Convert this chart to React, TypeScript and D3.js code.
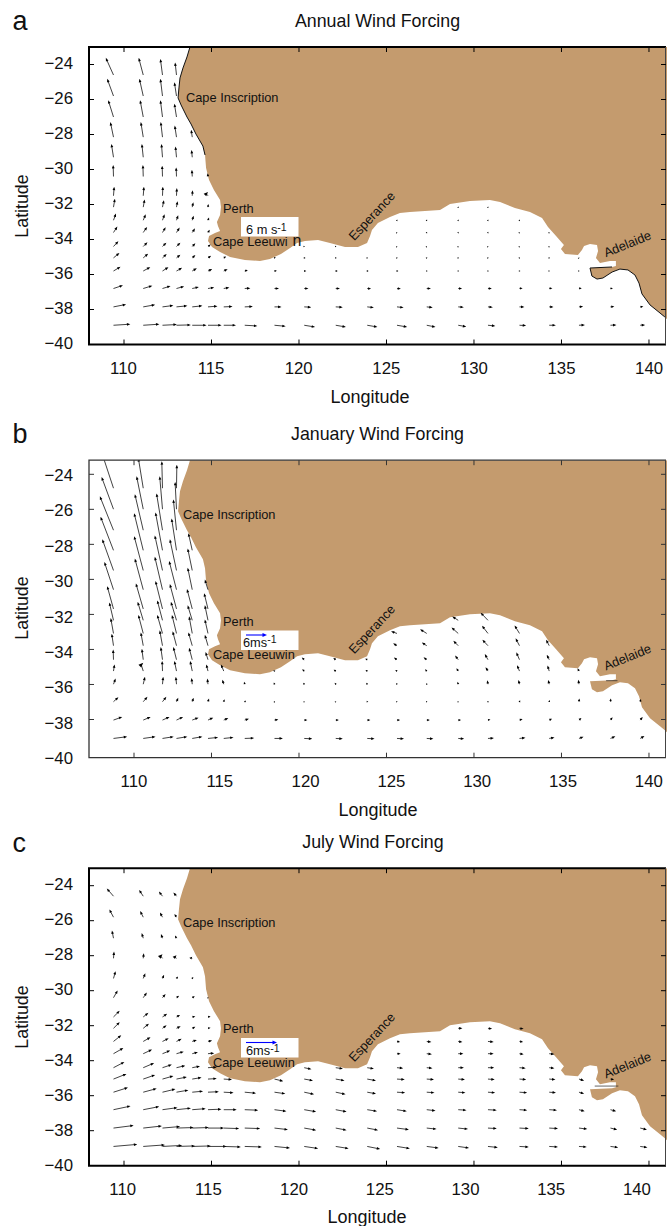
import React, {useRef, useEffect} from "react"
import * as d3 from "d3"

const _ = null

const lonGrid = [109.4, 111.1, 112.2, 113, 113.9, 114.8, 115.7, 116.9, 118.6, 120.3, 122.1, 123.9, 125.6, 127.3, 129.1, 130.8, 132.6, 134.3, 136, 137.8, 139.5]
const latGrid = [-24.6, -25.8, -27, -28.15, -29.3, -30.4, -31.5, -32.15, -32.9, -33.6, -34.4, -35.05, -35.8, -36.8, -37.85, -38.9]

const lonTicks = [110, 115, 120, 125, 130, 135, 140]
const latTicks = [-24, -26, -28, -30, -32, -34, -36, -38, -40]

// coast, south-west WA round to the Victorian border
const coastLon = [113.77, 113.6, 113.37, 113.2, 113.14, 113.09, 113.26, 113.6, 113.83, 114.11, 114.51, 114.63, 114.69, 114.86, 115.14, 115.49, 115.54, 115.49, 115.31, 115.37, 115.49, 115.2, 114.86, 114.8, 115.03, 115.49, 116.06, 116.91, 117.77, 118.34, 118.97, 119.49, 119.89, 120.34, 121.09, 121.77, 122.63, 123.37, 123.89, 124.06, 124.17, 124.51, 125.2, 125.77, 126.34, 128.06, 128.63, 129.77, 130.91, 131.49, 132.34, 133.2, 133.89, 134.23, 134.69, 135.14, 134.97, 135.2, 135.94, 136.17, 136.29, 136.63, 137.03, 137.09, 136.97, 137.2, 137.77, 138.11, 138.11, 137.89, 136.63, 136.74, 137.03, 137.37, 137.89, 138.34, 138.8, 139.2, 139.43, 139.6, 140.06, 140.63, 140.91, 141.03]
const coastLat = [-23, -23.57, -24.2, -24.77, -25.34, -25.91, -26.31, -27, -27.4, -27.97, -28.66, -29.17, -29.91, -30.6, -31.17, -31.74, -32.14, -32.6, -33, -33.23, -33.51, -33.63, -33.8, -34.09, -34.43, -34.71, -35, -35.17, -35.23, -35.11, -34.83, -34.49, -34.2, -34.09, -34.03, -34.2, -34.43, -34.43, -34.2, -33.8, -33.46, -33.06, -32.71, -32.49, -32.43, -32.31, -31.97, -31.8, -31.74, -31.86, -32.2, -32.43, -32.77, -33.29, -33.8, -34.31, -34.54, -34.83, -34.89, -34.6, -34.37, -34.26, -34.31, -34.66, -35.06, -35.34, -35.23, -35.23, -35.51, -35.57, -35.63, -36.09, -36.26, -36.2, -35.86, -35.69, -35.74, -36.03, -36.49, -37.11, -37.74, -38.2, -38.43, -38.55]

// wind components in m/s
const annualU = [
  [-2.2, -1.3, -.6, -.4, _, _, _, _, _, _, _, _, _, _, _, _, _, _, _, _, _],
  [-1.8, -1.1, -.6, -.6, _, _, _, _, _, _, _, _, _, _, _, _, _, _, _, _, _],
  [-1.5, -.9, -.6, -.6, _, _, _, _, _, _, _, _, _, _, _, _, _, _, _, _, _],
  [-.9, -.7, -.5, -.5, -.3, _, _, _, _, _, _, _, _, _, _, _, _, _, _, _, _],
  [-.6, -.4, -.3, -.3, -.2, _, _, _, _, _, _, _, _, _, _, _, _, _, _, _, _],
  [-.1, -.1, -.1, -.1, -.1, -.1, _, _, _, _, _, _, _, _, _, _, _, _, _, _, _],
  [.2, .2, .1, .1, .1, 0, _, _, _, _, _, _, _, _, _, _, _, _, _, _, _],
  [.4, .4, .4, .3, .3, .1, _, _, _, _, _, _, _, _, .1, .1, _, _, _, _, _],
  [.7, .7, .6, .5, .4, .3, _, _, _, _, _, _, .1, .1, .1, .1, .1, _, _, _, _],
  [1.1, 1.1, .9, .9, .8, .5, _, _, _, _, _, _, .1, .1, .1, .1, .1, .1, _, _, _],
  [1.4, 1.2, 1.1, 1.1, .9, .8, _, _, _, .2, .2, _, .1, .1, .1, .1, .1, .1, _, _, _],
  [1.7, 1.4, 1.2, 1.1, .9, .9, .7, _, .4, .4, .3, .2, .2, .2, .2, .2, .2, .2, .1, _, _],
  [2, 2, 1.7, 1.6, 1.3, 1.2, 1.1, .9, .7, .6, .6, .4, .4, .3, .3, .3, .3, .2, .2, _, _],
  [2.7, 2.6, 2.3, 2.2, 1.9, 1.8, 1.6, 1.6, 1.3, 1.2, 1.2, 1.1, 1.1, 1.2, 1.1, 1.1, .9, .9, .8, .7, _],
  [3.6, 3.4, 3.1, 3.1, 2.9, 2.7, 2.5, 2.3, 2, 2, 2, 1.9, 1.9, 1.7, 1.6, 1.4, 1.4, 1.2, 1.2, 1.1, .9],
  [4.8, 4.6, 4.1, 4.1, 4.1, 3.9, 3.5, 3.6, 3.2, 3.1, 2.9, 2.9, 2.9, 2.5, 2.3, 2.1, 1.9, 1.9, 1.7, 1.7, 1.4],
]
const annualV = [
  [4.9, 4.9, 4.6, 3.6, _, _, _, _, _, _, _, _, _, _, _, _, _, _, _, _, _],
  [4.9, 4.9, 4.9, 3.9, _, _, _, _, _, _, _, _, _, _, _, _, _, _, _, _, _],
  [4.8, 4.8, 4.8, 3.8, _, _, _, _, _, _, _, _, _, _, _, _, _, _, _, _, _],
  [4.3, 4.3, 4.3, 3.3, 2.1, _, _, _, _, _, _, _, _, _, _, _, _, _, _, _, _],
  [3.8, 3.8, 3.8, 3.1, 2.1, _, _, _, _, _, _, _, _, _, _, _, _, _, _, _, _],
  [3.3, 3.3, 3.1, 2.6, 1.9, .9, _, _, _, _, _, _, _, _, _, _, _, _, _, _, _],
  [2.6, 2.6, 2.6, 2.2, 1.6, 1.1, _, _, _, _, _, _, _, _, _, _, _, _, _, _, _],
  [2.4, 2.2, 2, 1.7, 1.4, .9, _, _, _, _, _, _, _, _, .2, .2, _, _, _, _, _],
  [1.9, 1.7, 1.7, 1.4, 1.3, .8, _, _, _, _, _, _, .2, .2, .2, .2, .2, _, _, _, _],
  [1.7, 1.6, 1.5, 1.4, 1.2, .8, _, _, _, _, _, _, .1, .2, .2, .2, .1, .1, _, _, _],
  [1.5, 1.2, 1.1, 1.1, .9, .6, _, _, _, 0, 0, _, .1, .1, .1, .1, .1, .1, _, _, _],
  [1.4, 1.2, 1.1, .9, .8, .6, .4, _, .1, 0, 0, .1, .1, .1, .1, .1, .1, .1, .1, _, _],
  [1.2, 1.1, 1.1, .9, .8, .6, .5, .3, .1, 0, 0, 0, 0, 0, 0, 0, 0, 0, 0, _, _],
  [.9, .8, .7, .6, .4, .3, .3, .1, 0, 0, 0, -.1, -.1, 0, 0, 0, .1, .1, .1, .1, _],
  [.7, .6, .4, .3, .3, .2, .1, .1, 0, -.1, -.1, -.2, -.2, -.2, -.1, -.1, 0, 0, .1, .1, .1],
  [.3, .3, .2, .1, 0, 0, 0, -.2, -.3, -.5, -.5, -.5, -.5, -.5, -.4, -.2, -.1, 0, .1, .1, .1],
]

const januaryU = [
  [-3.1, -1.4, -.2, .1, _, _, _, _, _, _, _, _, _, _, _, _, _, _, _, _, _],
  [-3.4, -1.9, -.8, -.4, _, _, _, _, _, _, _, _, _, _, _, _, _, _, _, _, _],
  [-3.9, -2.4, -1.7, -.9, _, _, _, _, _, _, _, _, _, _, _, _, _, _, _, _, _],
  [-3.7, -2.6, -2, -1.4, -1.1, _, _, _, _, _, _, _, _, _, _, _, _, _, _, _, _],
  [-3.2, -2.6, -2.2, -1.9, -1.3, _, _, _, _, _, _, _, _, _, _, _, _, _, _, _, _],
  [-2.6, -2.4, -2.2, -2.1, -1.3, -.9, _, _, _, _, _, _, _, _, _, _, _, _, _, _, _],
  [-1.8, -2.1, -2, -1.9, -1.5, -1.1, _, _, _, _, _, _, _, _, _, _, _, _, _, _, _],
  [-1.2, -1.6, -1.5, -1.6, -1.3, -.9, _, _, _, _, _, _, _, _, -1.7, -2.1, _, _, _, _, _],
  [-.8, -1.4, -1.5, -1.3, -.9, -.9, _, _, _, _, _, _, -1.7, -1.9, -1.9, -1.7, -1.4, _, _, _, _],
  [-.5, -.7, -.8, -1.1, -1.1, -.9, _, _, _, _, _, _, -1.1, -1.4, -1.4, -1.6, -1.1, -.9, _, _, _],
  [-.1, -.4, -.5, -.9, -.9, -.7, _, _, _, -.7, -.7, -.6, -.9, -.9, -.9, -.9, -.9, -.7, _, _, _],
  [.3, 0, -.1, -.6, -.6, -.5, -.8, _, -.3, -.6, -.6, -.5, -.5, -.5, -.5, -.7, -.7, -.5, -.4, _, _],
  [.6, .5, .2, -.2, -.2, -.2, -.4, -.2, -.2, -.3, -.3, -.3, -.3, -.2, -.2, -.2, -.3, -.3, -.2, _, _],
  [1.4, 1.2, 1.1, .5, .4, .3, .2, .4, .1, .1, .1, .3, .2, .2, .1, .2, .2, .1, .1, .1, .2],
  [2.5, 2.1, 2, 1.9, 1.8, 1.5, 1.3, 1.2, 1.1, .9, .9, .9, .9, .9, .8, .7, .9, .8, .7, .6, .7],
  [3.9, 3.5, 3.2, 3.1, 2.9, 2.9, 2.8, 2.7, 2.4, 2.3, 2, 2.1, 2, 1.9, 1.7, 1.7, 1.7, 1.5, 1.3, 1.4, 1.2],
]
const januaryV = [
  [9.4, 8.6, 7.7, 6.7, _, _, _, _, _, _, _, _, _, _, _, _, _, _, _, _, _],
  [9.2, 9.4, 9.4, 7.8, _, _, _, _, _, _, _, _, _, _, _, _, _, _, _, _, _],
  [9.7, 10.3, 10.5, 8.8, _, _, _, _, _, _, _, _, _, _, _, _, _, _, _, _, _],
  [9.6, 10.6, 10.8, 9.1, 4.9, _, _, _, _, _, _, _, _, _, _, _, _, _, _, _, _],
  [8.9, 9.8, 10, 8.9, 6.3, _, _, _, _, _, _, _, _, _, _, _, _, _, _, _, _],
  [7.9, 8.9, 9.4, 8.2, 6.3, 2.9, _, _, _, _, _, _, _, _, _, _, _, _, _, _, _],
  [6.5, 7.3, 8, 7.1, 5.7, 4.5, _, _, _, _, _, _, _, _, _, _, _, _, _, _, _],
  [5.1, 5.3, 5.7, 5.3, 4.3, 4.3, _, _, _, _, _, _, _, _, 1.1, 2.2, _, _, _, _, _],
  [4.4, 5.3, 5.3, 5.3, 4.9, 4, _, _, _, _, _, _, .6, 1.2, 1.7, 2.2, 2.3, _, _, _, _],
  [3.4, 3.8, 4.4, 4.1, 3.8, 3.1, _, _, _, _, _, _, .7, .9, 1.4, 1.7, 2.1, 1.7, _, _, _],
  [2.9, 3.1, 3.6, 3.6, 3.4, 2.2, _, _, _, .6, .5, .3, .6, .7, 1.2, 1.6, 2.1, 1.4, _, _, _],
  [1.9, 2.4, 2.9, 2.9, 2.9, 1.9, 1.9, _, .3, .5, .4, .3, .3, .5, .8, 1.1, 1.7, 1.6, .8, _, _],
  [1.6, 2.1, 2.1, 2.1, 1.8, 1.6, 1.3, .7, .5, .4, .4, .4, .3, .3, .7, 1.1, 1.2, 1.2, 1.3, _, _],
  [1.3, 1.4, 1.4, 1.1, 1.1, .9, .7, .3, .2, .1, .1, 0, 0, 0, .1, .2, .4, .5, .9, .9, .8],
  [.9, .9, .9, .9, .7, .7, .6, .4, .2, 0, 0, 0, 0, 0, 0, .2, .3, .4, .6, .8, .9],
  [.5, .5, .5, .5, .5, .3, .3, .1, 0, -.1, -.1, -.1, -.1, -.1, -.1, .1, .2, .3, .5, .6, .7],
]

const julyU = [
  [-1.3, -.8, -.7, -.6, _, _, _, _, _, _, _, _, _, _, _, _, _, _, _, _, _],
  [-.8, -.6, -.5, -.4, _, _, _, _, _, _, _, _, _, _, _, _, _, _, _, _, _],
  [-.3, -.3, -.3, -.3, _, _, _, _, _, _, _, _, _, _, _, _, _, _, _, _, _],
  [.1, .1, 0, 0, 0, _, _, _, _, _, _, _, _, _, _, _, _, _, _, _, _],
  [.4, .4, .3, .3, .2, _, _, _, _, _, _, _, _, _, _, _, _, _, _, _, _],
  [.8, .7, .6, .5, .5, .1, _, _, _, _, _, _, _, _, _, _, _, _, _, _, _],
  [1.2, 1, .9, .7, .6, .5, _, _, _, _, _, _, _, _, _, _, _, _, _, _, _],
  [1.2, 1.1, .8, .8, .6, .5, _, _, _, _, _, _, _, _, .8, .8, .8, _, _, _, _],
  [1.5, 1.4, 1.2, 1, .9, .8, _, _, _, _, _, _, .6, .9, .8, 1.1, .7, _, _, _, _],
  [1.9, 1.7, 1.5, 1.4, 1.1, 1.2, _, _, _, _, _, _, .7, 1, 1, 1.1, .8, 1, _, _, _],
  [2.1, 2.1, 1.8, 1.7, 1.5, 1.7, _, _, _, 1.4, 1.4, 1.3, 1.2, 1.1, 1.1, 1.2, 1.2, 1, _, _, _],
  [2.5, 2.3, 2.1, 2, 1.8, 1.7, 1.6, _, 1.7, 1.7, 1.7, 1.7, 1.5, 1.4, 1.3, 1.3, 1.3, 1.2, 1, .7, _],
  [2.8, 2.6, 2.5, 2.3, 2.1, 2.1, 1.9, 2.2, 2.1, 1.9, 1.9, 1.7, 1.6, 1.5, 1.4, 1.4, 1.5, 1.3, 1, _, _],
  [3.3, 3.1, 2.9, 2.8, 2.6, 2.6, 2.5, 2.6, 2.3, 2.3, 2.1, 1.9, 1.9, 1.7, 1.6, 1.7, 1.5, 1.5, 1.1, 1.1, _],
  [3.9, 3.6, 3.4, 3.3, 3.2, 3.1, 3, 3, 2.6, 2.3, 2.1, 2.1, 2.3, 1.9, 1.9, 1.7, 1.8, 1.7, 1.6, 1.3, 1.3],
  [4.6, 4.2, 3.8, 3.6, 3.6, 3.6, 3.3, 3.3, 3, 2.7, 2.5, 2.5, 2.5, 2.3, 2.1, 1.9, 1.8, 1.7, 1.5, 1.5, 1.4],
]
const julyV = [
  [1.5, 1.2, .9, .7, _, _, _, _, _, _, _, _, _, _, _, _, _, _, _, _, _],
  [1.5, 1.2, .9, .6, _, _, _, _, _, _, _, _, _, _, _, _, _, _, _, _, _],
  [1.5, 1, .8, .5, _, _, _, _, _, _, _, _, _, _, _, _, _, _, _, _, _],
  [1.3, 1, .8, .6, .3, _, _, _, _, _, _, _, _, _, _, _, _, _, _, _, _],
  [1.4, 1, .7, .4, .3, _, _, _, _, _, _, _, _, _, _, _, _, _, _, _, _],
  [1.4, 1, .7, .4, .3, .1, _, _, _, _, _, _, _, _, _, _, _, _, _, _, _],
  [1.2, .8, .6, .4, .1, .1, _, _, _, _, _, _, _, _, _, _, _, _, _, _, _],
  [1.2, .9, .6, .4, .3, .1, _, _, _, _, _, _, _, _, 0, -.1, -.1, _, _, _, _],
  [1.2, .8, .6, .5, .3, .2, _, _, _, _, _, _, -.1, -.1, -.1, -.1, -.1, _, _, _, _],
  [1.1, .8, .6, .4, .3, .1, _, _, _, _, _, _, 0, -.1, 0, 0, -.1, -.1, _, _, _],
  [1.1, .9, .6, .4, .3, .1, _, _, _, -.3, -.2, -.2, -.1, -.1, 0, 0, -.1, -.1, _, _, _],
  [1, .8, .6, .4, .3, .1, -.1, _, -.4, -.3, -.3, -.3, -.1, -.1, -.1, -.1, -.1, -.1, -.3, -.1, _],
  [.9, .7, .6, .4, .2, .1, -.1, -.2, -.3, -.4, -.4, -.3, -.1, -.1, -.1, -.1, -.1, -.1, -.3, _, _],
  [.7, .6, .4, .3, .2, .1, 0, -.1, -.3, -.4, -.4, -.3, -.3, -.2, -.1, -.1, -.1, -.1, -.3, -.3, _],
  [.5, .4, .3, .1, .1, 0, -.1, -.1, -.3, -.4, -.4, -.4, -.3, -.2, -.2, -.1, -.1, -.1, -.2, -.3, -.3],
  [.4, .3, .2, .1, .1, 0, -.1, -.1, -.3, -.4, -.4, -.5, -.4, -.3, -.3, -.2, -.1, -.1, -.1, -.2, -.2],
]

const panels = [
  {
    letter: "a", title: "Annual Wind Forcing", u: annualU, v: annualV,
    dy: 0, pxPerMs: 3.5, frame: 2, frameColor: "#000", blackCoast: true,
    tick110: 124, labelX0: 123.5, labelStep: 87.6, yTick: [64.5, 309.5], yLabel: [63.3, 343],
    titleX: 377.5, titleY: 27, letterY: 30, lonLabelX: 370, lonLabelY: 403, latLabelY: 206,
    tickLabelY: 374, inscriptionX: 186, inscriptionY: 102, perthY: 213, leeuwinY: 245.7,
    legend: {text: "6 m s", x: 246, y: 234, arrow: 0, box: 217},
    gulf: null,
  },
  {
    letter: "b", title: "January Wind Forcing", u: januaryU, v: januaryV,
    dy: 413.2, pxPerMs: 3.5, frame: 1.3, frameColor: "#333", blackCoast: false,
    tick110: 134, labelX0: 134, labelStep: 85.8, yTick: [474.3, 719.5], yLabel: [475, 758],
    titleX: 377.5, titleY: 440, letterY: 443, lonLabelX: 378, lonLabelY: 816, latLabelY: 608,
    tickLabelY: 787, inscriptionX: 183, inscriptionY: 519, perthY: 625.7, leeuwinY: 659,
    legend: {text: "6ms", x: 243, y: 646.7, arrow: 6, box: 630.5},
    gulf: [137.55, 138.2, -35.6],
  },
  {
    letter: "c", title: "July Wind Forcing", u: julyU, v: julyV,
    dy: 821.2, pxPerMs: 31 / 6, frame: 2, frameColor: "#000", blackCoast: false,
    tick110: 124, labelX0: 122.7, labelStep: 85.7, yTick: [885.7, 1130.7], yLabel: [884, 1165],
    titleX: 373, titleY: 848, letterY: 852, lonLabelX: 367, lonLabelY: 1223, latLabelY: 1017,
    tickLabelY: 1195, inscriptionX: 183, inscriptionY: 926.7, perthY: 1033, leeuwinY: 1066.7,
    legend: {text: "6ms", x: 246, y: 1055, arrow: 6, box: 1038},
    gulf: [136.9, 138.25, -35.45],
  },
]

const LAND = "#c49b6e"
const FONT = "'Liberation Sans', Arial, sans-serif"

const App = () => {
  let element = useRef<SVGSVGElement>(null)

  useEffect(() => {
    let svg = d3.select(element.current)
    svg.selectAll("*").remove()

    let x = d3.scaleLinear().domain([108, 141.03]).range([89, 667])

    panels.forEach((p, i) => {
      let y = d3.scaleLinear().domain([-40, -23]).range([344.5 + p.dy, 47 + p.dy])
      let g = svg.append("g")

      let clipId = "plot-" + i
      g.append("clipPath").attr("id", clipId).append("rect")
        .attr("x", 89).attr("y", y(-23))
        .attr("width", 578).attr("height", y(-40) - y(-23))

      let line = d3.line<number>().x(k => x(coastLon[k])).y(k => y(coastLat[k]))
      let idx = coastLon.map((_d, k) => k)

      let landPath = line(idx) + "L" + x(141.03) + "," + y(-23) + "Z"
      g.append("path").attr("d", landPath).attr("fill", LAND).attr("clip-path", `url(#${clipId})`)

      if (p.blackCoast) {
        g.append("path").attr("d", line(idx.slice(0, 12))).attr("fill", "none").attr("stroke", "#111").attr("stroke-width", 1)
        g.append("path").attr("d", line(idx.slice(69, 83))).attr("fill", "none").attr("stroke", "#111").attr("stroke-width", 1)
      }
      if (p.gulf) {
        g.append("line").attr("x1", x(p.gulf[0])).attr("x2", x(p.gulf[1]))
          .attr("y1", y(p.gulf[2])).attr("y2", y(p.gulf[2]))
          .attr("stroke", "#222").attr("stroke-width", 0.7)
      }

      // quiver
      let arrows = g.append("g").attr("clip-path", `url(#${clipId})`)
      latGrid.forEach((lat, r) => {
        lonGrid.forEach((lon, c) => {
          let u = p.u[r][c], v = p.v[r][c]
          if (u === null || v === null) return
          let x0 = x(lon), y0 = y(lat)
          let dx = u * p.pxPerMs, dy = -v * p.pxPerMs
          let len = Math.hypot(dx, dy) || 0.01
          let ux = dx / len || 1, uy = dy / len
          let hl = Math.min(3.4, 1.1 + len * 0.5), hw = Math.min(1.35, 0.7 + len * 0.15)
          let x1 = x0 + dx, y1 = y0 + dy
          arrows.append("line")
            .attr("x1", x0).attr("y1", y0).attr("x2", x1 - ux * hl * 0.6).attr("y2", y1 - uy * hl * 0.6)
            .attr("stroke", "#111").attr("stroke-width", 0.8)
          arrows.append("path")
            .attr("d", d3.line()([
              [x1, y1],
              [x1 - ux * hl - uy * hw, y1 - uy * hl + ux * hw],
              [x1 - ux * hl + uy * hw, y1 - uy * hl - ux * hw],
            ]) + "Z")
            .attr("fill", "#000")
        })
      })

      // frame and ticks
      let frame = g.append("g").attr("stroke", p.frameColor).attr("fill", "none")
      frame.append("path")
        .attr("d", `M666,${y(-23)}H89V${y(-40)}H666`)
        .attr("stroke-width", p.frame)
      frame.append("line").attr("x1", 665.5).attr("x2", 665.5).attr("y1", y(-23)).attr("y2", y(-40))
        .attr("stroke-width", 1).attr("stroke", "#444")

      let tickX = (d: number) => d === 110 ? p.tick110 : x(d)
      lonTicks.forEach(d => {
        frame.append("line").attr("x1", tickX(d)).attr("x2", tickX(d)).attr("y1", y(-40)).attr("y2", y(-40) - 5).attr("stroke-width", 1)
        frame.append("line").attr("x1", tickX(d)).attr("x2", tickX(d)).attr("y1", y(-23)).attr("y2", y(-23) + 5).attr("stroke-width", 1)
      })
      let yT = d3.scaleLinear().domain([-24, -38]).range(p.yTick)
      latTicks.slice(0, -1).forEach(d => {
        frame.append("line").attr("x1", 89).attr("x2", 94).attr("y1", yT(d)).attr("y2", yT(d)).attr("stroke-width", 1)
        frame.append("line").attr("x1", 661).attr("x2", 666).attr("y1", yT(d)).attr("y2", yT(d)).attr("stroke-width", 1)
      })

      let text = (s: string, tx: number, ty: number, size: number, anchor = "start") =>
        g.append("text").text(s).attr("x", tx).attr("y", ty).attr("font-size", size)
          .attr("font-family", FONT).attr("fill", "#111").attr("text-anchor", anchor)

      // tick labels
      let labelX = d3.scaleLinear().domain([110, 115]).range([p.labelX0, p.labelX0 + p.labelStep])
      lonTicks.forEach(d => text(String(d), labelX(d), p.tickLabelY, 16.8, "middle"))
      let yL = d3.scaleLinear().domain([-24, -40]).range(p.yLabel)
      latTicks.forEach(d => text("\u2212" + Math.abs(d), 73, yL(d) + 6, 16.8, "end"))

      text(p.letter, 12.5, p.letterY, 27)
      text(p.title, p.titleX, p.titleY, 17.8, "middle")
      text("Longitude", p.lonLabelX, p.lonLabelY, 18, "middle")
      text("Latitude", 0, 0, 17.8, "middle").attr("transform", `translate(28,${p.latLabelY}) rotate(-90)`)

      // place names
      text("Cape Inscription", p.inscriptionX, p.inscriptionY, 12.8)
      text("Perth", 223, p.perthY, 12.8)
      if (p.letter === "a") {
        text("Cape Leeuwi", 213, p.leeuwinY, 12.8)
        text("n", 292.5, p.leeuwinY, 16)
      } else {
        text("Cape Leeuwin", 213, p.leeuwinY, 12.8)
      }
      text("Esperance", 0, 0, 12.8, "middle").attr("transform", `translate(375,${219 + p.dy}) rotate(-47)`)
      text("Adelaide", 0, 0, 12.8, "middle").attr("transform", `translate(629,${248 + p.dy}) rotate(-22)`)

      // reference vector box
      let lg = p.legend
      g.append("rect").attr("x", 241).attr("y", lg.box).attr("width", 57.5).attr("height", 19.5).attr("fill", "#fff")
      if (lg.arrow) {
        let ax = 246, ay = lg.box + 4.5, bx = ax + lg.arrow * p.pxPerMs
        g.append("line").attr("x1", ax).attr("x2", bx - 2).attr("y1", ay).attr("y2", ay).attr("stroke", "#00f").attr("stroke-width", 1.1)
        g.append("path").attr("d", d3.line()([[bx, ay], [bx - 4.5, ay - 2], [bx - 4.5, ay + 2]]) + "Z").attr("fill", "#00f")
      }
      let t = text(lg.text, lg.x, lg.y, 12.8)
      t.append("tspan").text("-1").attr("dy", -3.5).attr("font-size", 10.5)
    })
  }, [])

  return (
    <svg ref={element} width={667} height={1226}
      style={{position: "absolute", left: 0, top: 0, background: "#fff", display: "block"}} />
  )
}

export default App
